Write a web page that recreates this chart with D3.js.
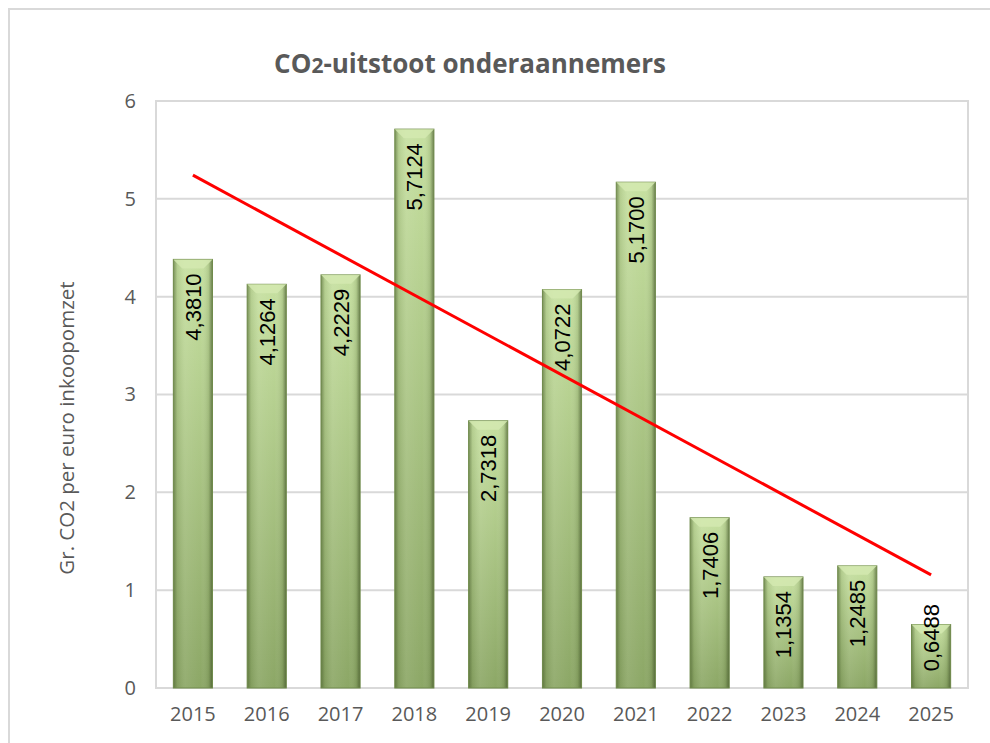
<!DOCTYPE html>
<html>
<head>
<meta charset="utf-8">
<script src="https://cdn.jsdelivr.net/npm/d3@7"></script>
<style>
  body { margin: 0; background: #fff; }
  svg { display: block; }
</style>
</head>
<body>
<svg id="chart" width="990" height="743"></svg>
<script>
// data
var years = ["2015", "2016", "2017", "2018", "2019", "2020", "2021", "2022", "2023", "2024", "2025"];
var values = [4.3810, 4.1264, 4.2229, 5.7124, 2.7318, 4.0722, 5.1700, 1.7406, 1.1354, 1.2485, 0.6488];
var yTicks = [0, 1, 2, 3, 4, 5, 6];
var yTitle = "Gr. CO2 per euro inkoopomzet";

var svg = d3.select("#chart");
var plotL = 156, plotR = 968, plotT = 101, plotB = 688;

var x = d3.scaleBand().domain(years).range([plotL, plotR]).paddingInner(0.47).paddingOuter(0.235);
var y = d3.scaleLinear().domain([0, 6]).range([plotB, plotT]);

// outer frame
svg.append("rect").attr("x", 9).attr("y", 9).attr("width", 1000).attr("height", 800)
  .attr("fill", "#fff").attr("stroke", "#d9d9d9").attr("stroke-width", 2);

var defs = svg.append("defs");
var vg = defs.append("linearGradient").attr("id", "vgrad").attr("x1", 0).attr("y1", 0).attr("x2", 0).attr("y2", 1);
vg.append("stop").attr("offset", "0%").attr("stop-color", "#c6e0a0");
vg.append("stop").attr("offset", "100%").attr("stop-color", "#8ca766");
var hg = defs.append("linearGradient").attr("id", "hgrad").attr("x1", 0).attr("y1", 0).attr("x2", 1).attr("y2", 0);
hg.append("stop").attr("offset", "0%").attr("stop-color", "#3d5222").attr("stop-opacity", 0.55);
hg.append("stop").attr("offset", "10%").attr("stop-color", "#3d5222").attr("stop-opacity", 0.12);
hg.append("stop").attr("offset", "30%").attr("stop-color", "#ffffff").attr("stop-opacity", 0.08);
hg.append("stop").attr("offset", "70%").attr("stop-color", "#ffffff").attr("stop-opacity", 0.0);
hg.append("stop").attr("offset", "90%").attr("stop-color", "#3d5222").attr("stop-opacity", 0.15);
hg.append("stop").attr("offset", "100%").attr("stop-color", "#2e3d1a").attr("stop-opacity", 0.6);

// gridlines
svg.append("g").selectAll("line").data(yTicks).join("line")
  .attr("x1", plotL).attr("x2", plotR)
  .attr("y1", function(d){ return y(d); }).attr("y2", function(d){ return y(d); })
  .attr("stroke", "#d9d9d9").attr("stroke-width", 2);
svg.append("rect").attr("x", plotL).attr("y", plotT).attr("width", plotR - plotL).attr("height", plotB - plotT)
  .attr("fill", "none").attr("stroke", "#d9d9d9").attr("stroke-width", 2);

// y axis
var yAxis = svg.append("g").attr("transform", "translate(" + (plotL - 20) + ",0)")
  .call(d3.axisLeft(y).tickValues(yTicks).tickSize(0).tickPadding(0).tickFormat(d3.format("d")));
yAxis.select(".domain").remove();
yAxis.selectAll("text").attr("font-family", "Open Sans, sans-serif").attr("font-size", 20).attr("fill", "#595959");

// x axis
var xAxis = svg.append("g").attr("transform", "translate(0," + plotB + ")")
  .call(d3.axisBottom(x).tickSize(0).tickPadding(19));
xAxis.select(".domain").remove();
xAxis.selectAll("text").attr("font-family", "Open Sans, sans-serif").attr("font-size", 20).attr("fill", "#595959");

// bars
var bw = x.bandwidth();
var bars = svg.append("g").selectAll("g").data(values).join("g");
bars.append("rect")
  .attr("x", function(d, i){ return x(years[i]); })
  .attr("y", function(d){ return y(d); })
  .attr("width", bw).attr("height", function(d){ return plotB - y(d); })
  .attr("fill", "url(#vgrad)");
bars.append("rect")
  .attr("x", function(d, i){ return x(years[i]); })
  .attr("y", function(d){ return y(d); })
  .attr("width", bw).attr("height", function(d){ return plotB - y(d); })
  .attr("fill", "url(#hgrad)").attr("stroke", "#6f8a4b").attr("stroke-width", 1);
// top bevel
bars.append("path")
  .attr("d", function(d, i){
    var x0 = x(years[i]), t = y(d), b = 9;
    return "M" + x0 + "," + t + "L" + (x0 + bw) + "," + t + "L" + (x0 + bw - b) + "," + (t + b) + "L" + (x0 + b) + "," + (t + b) + "Z";
  })
  .attr("fill", "#d3e9b0").attr("opacity", 0.85);

// labels
var lblSize = 22;
bars.append("text")
  .attr("transform", function(d, i){
    var cx = x(years[i]) + bw / 2;
    var len = 68;
    var topY = Math.min(y(d) + 14, plotB - 16 - len);
    return "translate(" + (cx + 8) + "," + topY + ") rotate(-90)";
  })
  .attr("text-anchor", "end")
  .attr("font-family", "Liberation Sans, Arial, sans-serif").attr("font-size", lblSize).attr("fill", "#000")
  .text(function(d){ return d3.format(".4f")(d).replace(".", ","); });

// linear trendline (least squares over the bars)
var n = values.length;
var mx = d3.mean(values, function(d, i){ return i; });
var my = d3.mean(values);
var sxy = d3.sum(values, function(d, i){ return (i - mx) * (d - my); });
var sxx = d3.sum(values, function(d, i){ return (i - mx) * (i - mx); });
var slope = sxy / sxx, icpt = my - slope * mx;
var trend = [[0, icpt], [n - 1, icpt + slope * (n - 1)]];
svg.append("path")
  .attr("d", d3.line()
    .x(function(p){ return x(years[p[0]]) + bw / 2; })
    .y(function(p){ return y(p[1]); })(trend))
  .attr("stroke", "#ff0000").attr("stroke-width", 3).attr("fill", "none");

// title
var tt = svg.append("text").attr("x", 470).attr("y", 73).attr("text-anchor", "middle")
  .attr("font-family", "Open Sans, sans-serif").attr("font-weight", "bold").attr("font-size", 26).attr("fill", "#595959");
tt.append("tspan").text("CO");
tt.append("tspan").attr("font-size", 21).text("2");
tt.append("tspan").text("-uitstoot onderaannemers");

// y title
svg.append("text").attr("transform", "translate(74,428) rotate(-90)").attr("text-anchor", "middle")
  .attr("font-family", "Open Sans, sans-serif").attr("font-size", 20.5).attr("fill", "#595959")
  .text(yTitle);
</script>
</body>
</html>
